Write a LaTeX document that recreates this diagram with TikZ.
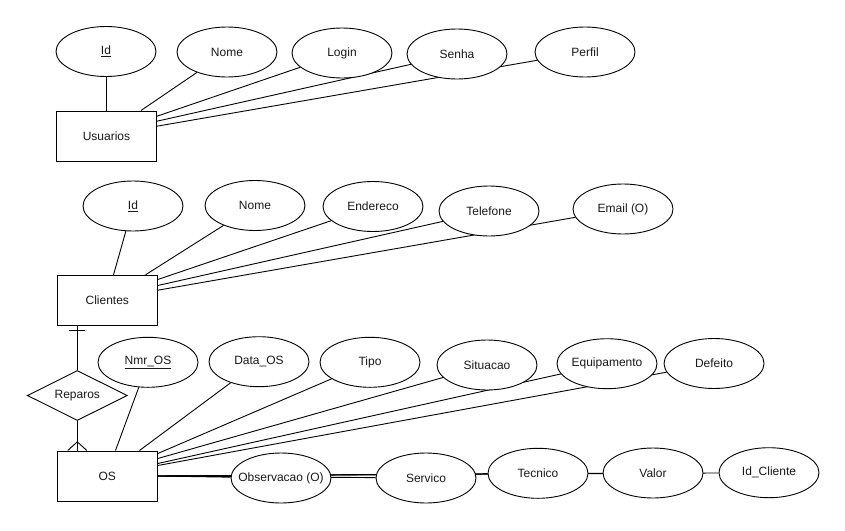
\documentclass[tikz,border=0pt]{standalone}
\usepackage{fontspec}
\setmainfont{Liberation Sans}
\usetikzlibrary{shapes.geometric,backgrounds}
\newcommand{\attrtxt}[1]{\makebox[0pt][c]{#1}}
\begin{document}
\begin{tikzpicture}[x=1pt,y=-1pt,
  every node/.style={font=\fontsize{12}{14}\selectfont, text=black!90},
  entity/.style={draw, line width=1pt, minimum width=100pt, minimum height=50pt, inner sep=0pt, fill=white},
  attr/.style={ellipse, draw, line width=0.9pt, fill=white, minimum width=100pt, minimum height=50pt, inner sep=0pt},
  rel/.style={diamond, draw, line width=0.9pt, fill=white, minimum width=100pt, minimum height=50pt, inner sep=0pt},
  conn/.style={line width=0.9pt}]
\useasboundingbox (0,0) rectangle (845,530);

% Usuarios
\node[entity] (usu) at (106.5,136) {Usuarios};
\node[attr] (uid) at (106,51.5) {\attrtxt{\underline{Id}}};
\node[attr] (unome) at (227,52) {\attrtxt{Nome}};
\node[attr] (ulogin) at (342,53) {\attrtxt{Login}};
\node[attr] (usenha) at (457,54) {\attrtxt{Senha}};
\node[attr] (uperfil) at (585,52) {\attrtxt{Perfil}};

% Clientes
\node[entity] (cli) at (107.3,300.3) {Clientes};
\node[attr] (cid) at (133,206) {\attrtxt{\underline{Id}}};
\node[attr] (cnome) at (255,205.5) {\attrtxt{Nome}};
\node[attr] (cend) at (373,206.5) {\attrtxt{Endereco}};
\node[attr] (ctel) at (489,211) {\attrtxt{Telefone}};
\node[attr] (cemail) at (623,209) {\attrtxt{Email (O)}};

% OS
\node[entity] (os) at (107.3,476) {OS};
\node[attr] (nmr) at (148,362.3) {\attrtxt{\underline{Nmr\_OS}}};
\node[attr] (data) at (259,361.7) {\attrtxt{Data\_OS}};
\node[attr] (tipo) at (370,362.3) {\attrtxt{Tipo}};
\node[attr] (sit) at (487,365) {\attrtxt{Situacao}};
\node[attr] (equip) at (607,363.7) {\attrtxt{Equipamento}};
\node[attr] (def) at (714,363.5) {\attrtxt{Defeito}};
\node[attr] (obs) at (281,478) {\attrtxt{Observacao (O)}};
\node[attr] (serv) at (426,478) {\attrtxt{Servico}};
\node[attr] (tec) at (538,473.3) {\attrtxt{Tecnico}};
\node[attr] (valor) at (653,473) {\attrtxt{Valor}};
\node[attr] (idcli) at (769,472.7) {\attrtxt{Id\_Cliente}};

% Relationship
\node[rel] (rep) at (77.3,395.5) {\attrtxt{Reparos}};
\coordinate (clibot) at (cli.south -| rep);
\coordinate (ostop) at (os.north -| rep);

\begin{scope}[on background layer]
  % Usuarios connectors
  \draw[conn] (uid) -- (uid |- usu.north);
  \draw[conn] ([xshift=85pt]usu.north west) -- (unome);
  \draw[conn] ([yshift=-5.7pt]usu.north east) -- (ulogin);
  \draw[conn] ([yshift=-10.7pt]usu.north east) -- (usenha);
  \draw[conn] ([yshift=-15.7pt]usu.north east) -- (uperfil);
  % Clientes connectors
  \draw[conn] ([xshift=56.7pt]cli.north west) -- (cid);
  \draw[conn] ([xshift=88.7pt]cli.north west) -- (cnome);
  \draw[conn] ([yshift=-4.7pt]cli.north east) -- (cend);
  \draw[conn] ([yshift=-10.7pt]cli.north east) -- (ctel);
  \draw[conn] ([yshift=-15.4pt]cli.north east) -- (cemail);
  % OS connectors
  \draw[conn] ([xshift=58.7pt]os.north west) -- (nmr);
  \draw[conn] ([xshift=82.7pt]os.north west) -- (data);
  \draw[conn] ([yshift=-3pt]os.north east) -- (tipo);
  \draw[conn] ([yshift=-8pt]os.north east) -- (sit);
  \draw[conn] ([yshift=-13pt]os.north east) -- (equip);
  \draw[conn] ([yshift=-15pt]os.north east) -- (def);
  \draw[conn] (os.east) -- (obs);
  \draw[conn] (os.east) -- (serv);
  \draw[conn] (os.east) -- (tec);
  \draw[conn] (os.east) -- (valor);
  \draw[conn] (os.east) -- (idcli);
  % Relationship connectors
  \draw[conn] (clibot) -- (rep.north);
  \draw[conn] (rep.south) -- (ostop);
\end{scope}
% one mark near Clientes
\draw[conn] ([xshift=-8pt,yshift=-5pt]clibot) -- ([xshift=8pt,yshift=-5pt]clibot);
% crow's foot near OS
\draw[conn] ([xshift=-9.5pt]ostop) -- ([yshift=8.7pt]ostop) -- ([xshift=9.5pt]ostop);
\end{tikzpicture}
\end{document}
